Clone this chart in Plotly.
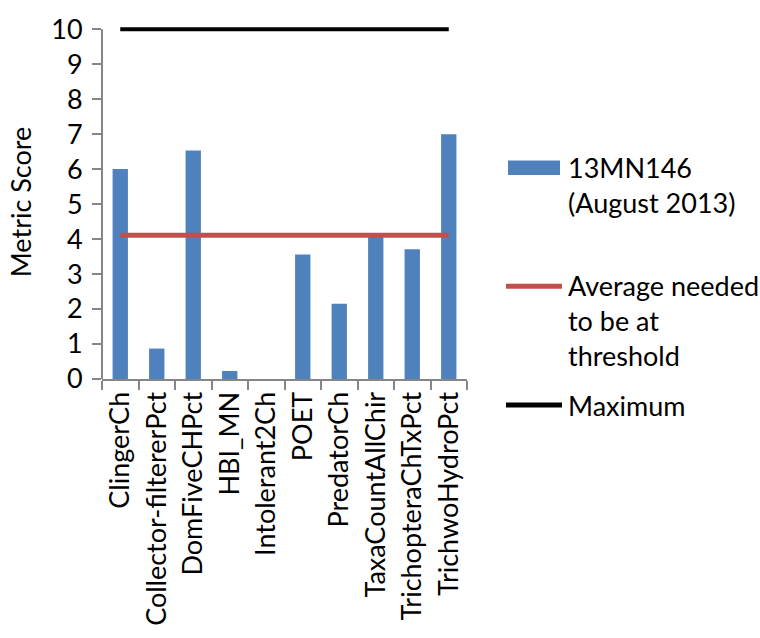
import plotly.graph_objects as go

categories = ["ClingerCh", "Collector-filtererPct", "DomFiveCHPct", "HBI_MN",
              "Intolerant2Ch", "POET", "PredatorCh", "TaxaCountAllChir",
              "TrichopteraChTxPct", "TrichwoHydroPct"]
scores = [6.0, 0.87, 6.53, 0.23, 0.0, 3.56, 2.15, 4.08, 3.71, 7.0]
threshold = [4.11] * len(categories)
maximum = [10] * len(categories)

series_name = "13MN146<br>(August 2013)"
threshold_name = "Average needed<br>to be at<br>threshold"
maximum_name = "Maximum"

BLUE = "#4F81BD"
RED = "#C0504D"
BLACK = "#000000"
AXIS = "#868686"
FONT = "Lato"
FS = 27

W, H = 760, 638
L, R, T, B = 102, 467, 16, 382
YMAX = 10.12


def px(x):
    return (x - L) / (R - L)


def py(y):
    return (B - y) / (B - T)


fig = go.Figure()
fig.add_trace(go.Bar(x=categories, y=scores, marker=dict(color=BLUE, line=dict(width=0)),
                     name="13MN146 (August 2013)", showlegend=False))
fig.add_trace(go.Scatter(x=categories, y=threshold, mode="lines",
                         line=dict(color=RED, width=5), name="Average needed to be at threshold",
                         showlegend=False))
fig.add_trace(go.Scatter(x=categories, y=maximum, mode="lines",
                         line=dict(color=BLACK, width=4), name="Maximum", showlegend=False))

shapes = [
    # y axis line, ending at the top tick
    dict(type="line", xref="paper", yref="y", x0=0, x1=0, y0=0, y1=10,
         line=dict(color=AXIS, width=2), layer="above"),
    # legend keys
    dict(type="rect", xref="paper", yref="paper", x0=px(508), x1=px(560), y0=py(171), y1=py(156),
         fillcolor=BLUE, line=dict(width=0)),
    dict(type="line", xref="paper", yref="paper", x0=px(506), x1=px(562), y0=py(286), y1=py(286),
         line=dict(color=RED, width=5)),
    dict(type="line", xref="paper", yref="paper", x0=px(506), x1=px(562), y0=py(409), y1=py(409),
         line=dict(color=BLACK, width=5)),
]
annotations = [
    dict(text=series_name, xref="paper", yref="paper", x=px(566), y=py(181), xanchor="left",
         yanchor="middle", align="left", showarrow=False, font=dict(family=FONT, size=FS, color="black")),
    dict(text=threshold_name, xref="paper", yref="paper", x=px(566), y=py(322), xanchor="left",
         yanchor="middle", align="left", showarrow=False, font=dict(family=FONT, size=FS, color="black")),
    dict(text=maximum_name, xref="paper", yref="paper", x=px(566), y=py(409), xanchor="left",
         yanchor="middle", align="left", showarrow=False, font=dict(family=FONT, size=FS, color="black")),
]

fig.update_layout(
    width=W, height=H,
    margin=dict(l=L, r=W - R, t=T, b=H - B),
    paper_bgcolor="white", plot_bgcolor="white",
    bargap=0.58,
    showlegend=False,
    font=dict(family=FONT, size=FS, color="black"),
    shapes=shapes, annotations=annotations,
    xaxis=dict(showline=True, linecolor=AXIS, linewidth=2, ticks="outside", tickson="boundaries",
               ticklen=9, tickcolor=AXIS, tickwidth=2, tickangle=-90, showgrid=False,
               tickfont=dict(family=FONT, size=FS, color="black")),
    yaxis=dict(range=[0, YMAX], tickvals=list(range(0, 11)), showline=False,
               ticks="outside", ticklen=9, tickcolor=AXIS, tickwidth=2, showgrid=False,
               zeroline=False, ticklabelstandoff=4,
               title=dict(text="Metric Score", standoff=11,
                          font=dict(family=FONT, size=FS, color="black")),
               tickfont=dict(family=FONT, size=FS, color="black")),
)

fig.write_html("out.html")
